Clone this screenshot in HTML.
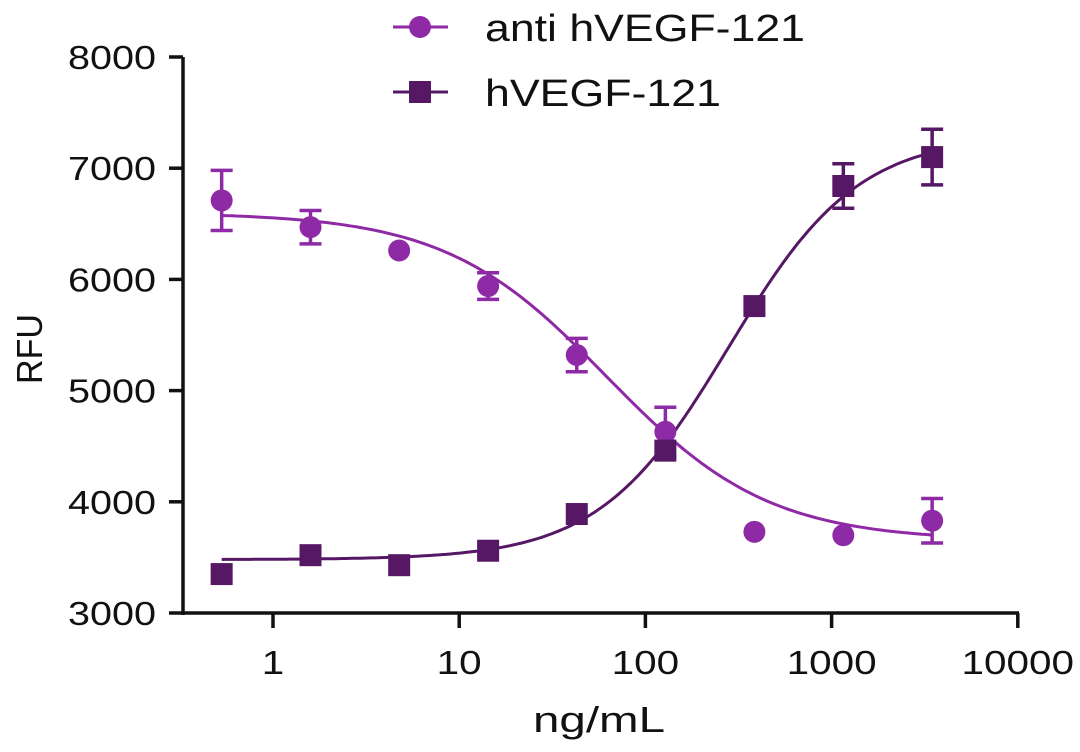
<!DOCTYPE html>
<html><head><meta charset="utf-8"><style>
body{margin:0;background:#fff}
svg text{font-family:"Liberation Sans",Arial,sans-serif;fill:#111}
</style></head><body>
<svg width="1080" height="747" viewBox="0 0 1080 747">
<g id="axes"></g><g id="plot"></g><g id="legend"></g>
</svg>
<script>
const concentrations=[0.53,1.59,4.76,14.3,42.8,128,385,1156,3467];
const antiValues=[6710,6470,6260,5940,5320,4630,3730,3700,3830];
const antiErrors=[270,150,0,120,150,220,0,0,200];
const vegfValues=[3350,3520,3430,3560,3890,4460,5760,6840,7100];
const vegfErrors=[0,0,0,0,0,0,0,200,250];
const antiFit=[6600,3650,62,1.0];
const vegfFit=[3480,7300,280,1.25];
const yTicks=[3000,4000,5000,6000,7000,8000];
const xTicks=[1,10,100,1000,10000];
const xTickLabels=["1","10","100","1000","10000"];
const NS='http://www.w3.org/2000/svg';
function X(v){return 273+Math.log10(v)*186.2;}
function Y(v){return 613-(v-3000)*0.1112;}
function mk(t,a,p){const e=document.createElementNS(NS,t);for(const k in a)e.setAttribute(k,a[k]);(p||document.getElementById('plot')).appendChild(e);return e;}
const ax=document.getElementById('axes');
let e=mk('line',{x1:183,y1:57,x2:183,y2:615,stroke:'#111','stroke-width':3.5},ax);

e=mk('line',{x1:181,y1:613,x2:1019,y2:613,stroke:'#111','stroke-width':3.5},ax);

yTicks.forEach(v=>{mk('line',{x1:169,y1:Y(v),x2:183,y2:Y(v),stroke:'#111','stroke-width':3.5},ax);
 const t=mk('text',{x:156,y:Y(v)+12,'text-anchor':'end','font-size':33,textLength:88,lengthAdjust:'spacingAndGlyphs'},ax);t.textContent=v;
 });
xTicks.forEach((v,i)=>{mk('line',{x1:X(v),y1:613,x2:X(v),y2:628,stroke:'#111','stroke-width':3.5},ax);
 const t=mk('text',{x:X(v),y:674,'text-anchor':'middle','font-size':33,textLength:xTickLabels[i].length*22.5,lengthAdjust:'spacingAndGlyphs'},ax);t.textContent=xTickLabels[i];
 });
let t=mk('text',{x:599,y:732,'text-anchor':'middle','font-size':36,textLength:132,lengthAdjust:'spacingAndGlyphs'},ax);t.textContent='ng/mL';

t=mk('text',{x:0,y:0,'text-anchor':'middle','font-size':36,textLength:70,lengthAdjust:'spacingAndGlyphs',transform:'translate(42,349) rotate(-90)'},ax);t.textContent='RFU';

function curve(p,col,name){let d='';for(let i=0;i<=200;i++){const lx=Math.log10(concentrations[0])+i*(Math.log10(concentrations[8])-Math.log10(concentrations[0]))/200;const c=Math.pow(10,lx);
 const v=p[0]+(p[1]-p[0])/(1+Math.pow(p[2]/c,p[3]));d+=(i?'L':'M')+X(c).toFixed(1)+','+Y(v).toFixed(1);}
 const el=mk('path',{d:d,fill:'none',stroke:col,'stroke-width':3});}
curve(antiFit,'#8e2aa5','anti-fit-curve');curve(vegfFit,'#561865','vegf-fit-curve');
function pts(vals,errs,col,shape,name){vals.forEach((v,i)=>{const x=X(concentrations[i]),y=Y(v);
 if(errs[i]>0){const g=mk('path',{d:`M${x},${Y(v+errs[i])}V${Y(v-errs[i])}M${x-11},${Y(v+errs[i])}H${x+11}M${x-11},${Y(v-errs[i])}H${x+11}`,stroke:col,'stroke-width':3.5,fill:'none'});
  }
 const m=shape==='c'?mk('circle',{cx:x,cy:y,r:11,fill:col}):mk('rect',{x:x-11,y:y-11,width:22,height:22,fill:col});
 });}
pts(antiValues,antiErrors,'#8e2aa5','c','anti');
pts(vegfValues,vegfErrors,'#561865','s','vegf');
const lg=document.getElementById('legend');
mk('line',{x1:393,y1:27,x2:448,y2:27,stroke:'#8e2aa5','stroke-width':3},lg);
e=mk('circle',{cx:420,cy:27,r:11,fill:'#8e2aa5'},lg);
t=mk('text',{x:485,y:41,'font-size':38,textLength:320,lengthAdjust:'spacingAndGlyphs'},lg);t.textContent='anti hVEGF-121';
mk('line',{x1:393,y1:92,x2:448,y2:92,stroke:'#561865','stroke-width':3},lg);
e=mk('rect',{x:409,y:81,width:22,height:22,fill:'#561865'},lg);
t=mk('text',{x:485,y:106,'font-size':38,textLength:236,lengthAdjust:'spacingAndGlyphs'},lg);t.textContent='hVEGF-121';
</script>
</body></html>
